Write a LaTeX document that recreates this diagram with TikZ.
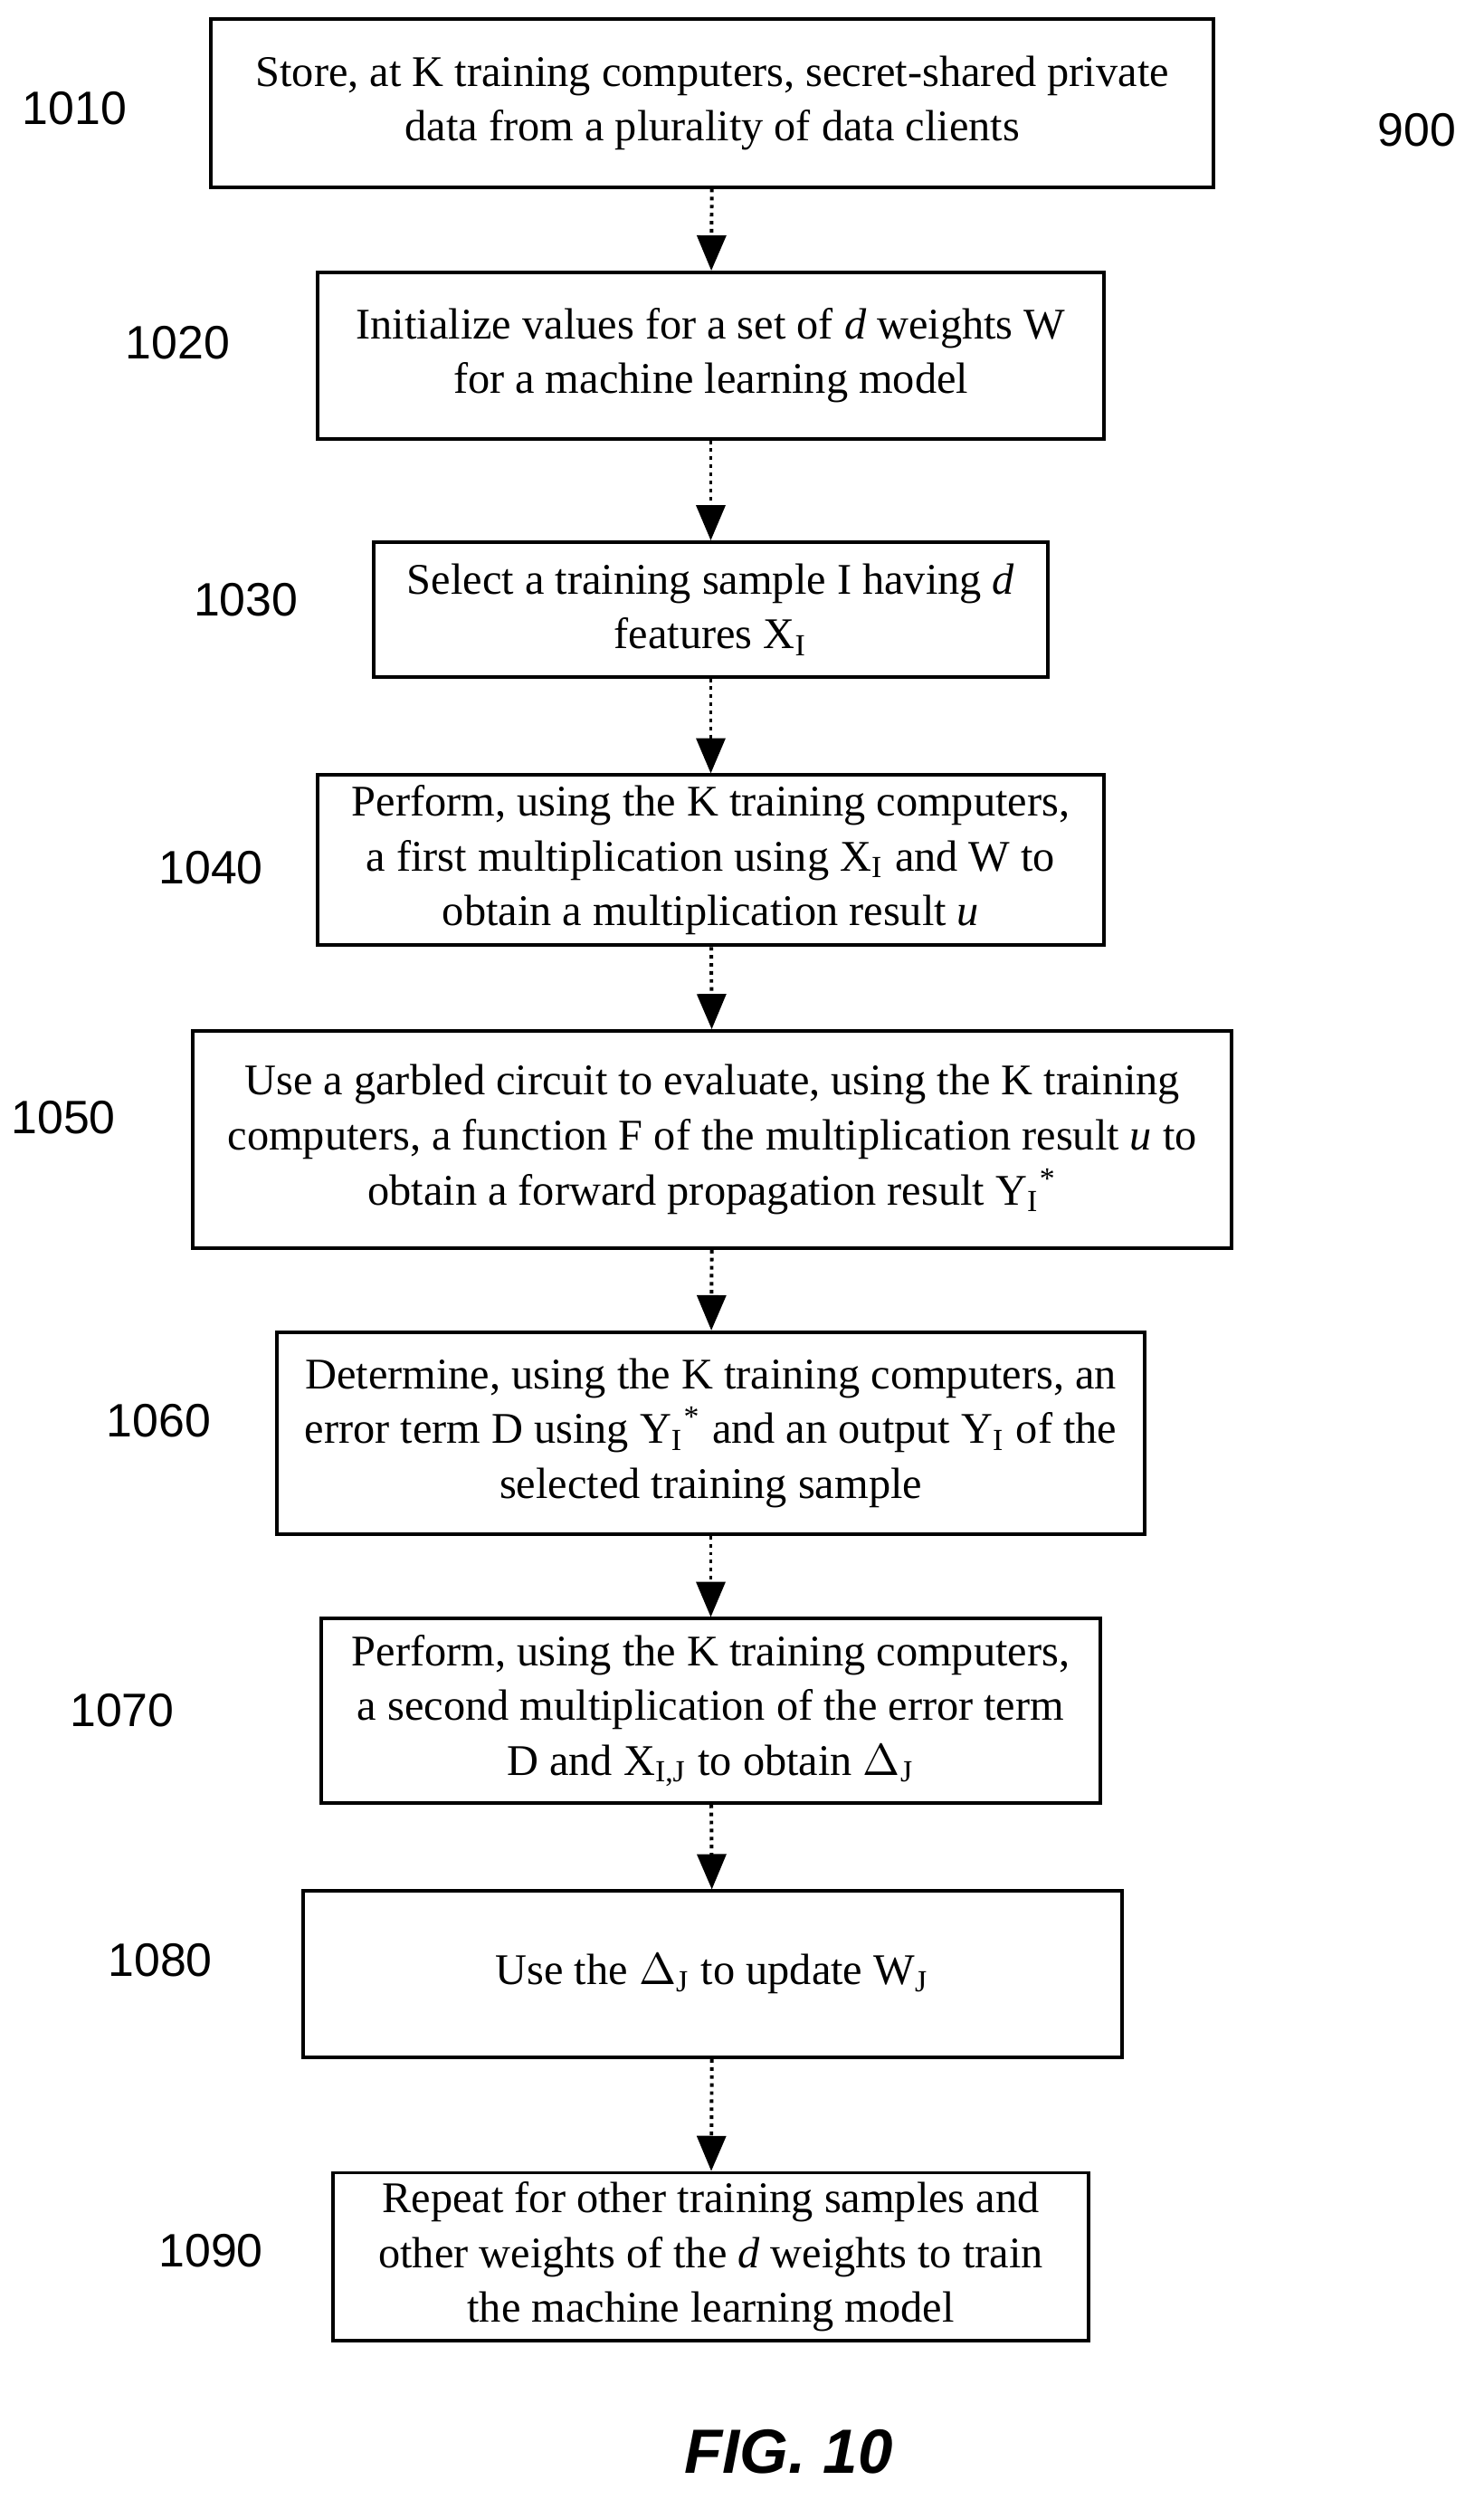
\documentclass[tikz,border=0pt]{standalone}
\usepackage{fontspec}
\setmainfont{Liberation Serif}
\newfontfamily\labelfont{Liberation Sans}
\usetikzlibrary{arrows,positioning}

\begin{document}
\begin{tikzpicture}[x=0.0125cm,y=-0.0125cm,font=\fontsize{9.8}{12.3}\selectfont]

\tikzset{stepbox/.style={draw,thick,align=center,inner sep=2pt},
steplabel/.style={font=\labelfont\fontsize{10.5}{12}\selectfont},
flow/.style={->,>=triangle 45,thick,densely dotted}}

\useasboundingbox (0,0) rectangle (935,1581);

% Boxes
\node[stepbox,minimum width=7.9cm,minimum height=1.32cm] (b1010) at (449,65) {Store, at K training computers, secret-shared private\\data from a plurality of data clients};
\node[stepbox,minimum width=6.19cm,minimum height=1.31cm] (b1020) at (448,224) {Initialize values for a set of \textit{d} weights W\\for a machine learning model};
\node[stepbox,minimum width=5.31cm,minimum height=1.06cm] (b1030) at (448,384) {Select a training sample I having \textit{d}\\features X\textsubscript{I}};
\node[stepbox,minimum width=6.19cm,minimum height=1.34cm] (b1040) at (448,542) {Perform, using the K training computers,\\a first multiplication using X\textsubscript{I} and W to\\obtain a multiplication result \textit{u}};
\node[stepbox,minimum width=8.18cm,minimum height=1.71cm] (b1050) at (449,718) {Use a garbled circuit to evaluate, using the K training\\computers, a function F of the multiplication result \textit{u} to\\obtain a forward propagation result Y\textsubscript{I}\textsuperscript{*}};
\node[stepbox,minimum width=6.84cm,minimum height=1.59cm] (b1060) at (448,903) {Determine, using the K training computers, an\\error term D using Y\textsubscript{I}\textsuperscript{*} and an output Y\textsubscript{I} of the\\selected training sample};
\node[stepbox,minimum width=6.14cm,minimum height=1.45cm] (b1070) at (448,1078) {Perform, using the K training computers,\\a second multiplication of the error term\\D and X\textsubscript{I,J} to obtain $\Delta_{\mathrm J}$};
\node[stepbox,minimum width=6.45cm,minimum height=1.31cm] (b1080) at (449,1244) {Use the $\Delta_{\mathrm J}$ to update W\textsubscript{J}};
\node[stepbox,minimum width=5.95cm,minimum height=1.31cm] (b1090) at (448,1422) {Repeat for other training samples and\\other weights of the \textit{d} weights to train\\the machine learning model};

% Reference labels
\node[steplabel] (l1010) at (47,68) {1010};
\node[steplabel] (l900) at (893,82) {900};
\node[steplabel] (l1020) at (112,216) {1020};
\node[steplabel] (l1030) at (155,378) {1030};
\node[steplabel] (l1040) at (133,547) {1040};
\node[steplabel] (l1050) at (40,704) {1050};
\node[steplabel] (l1060) at (100,895) {1060};
\node[steplabel] (l1070) at (77,1078) {1070};
\node[steplabel] (l1080) at (101,1235) {1080};
\node[steplabel] (l1090) at (133,1418) {1090};
\node[font=\labelfont\bfseries\itshape\fontsize{14}{16}\selectfont] (fig) at (497,1545) {FIG. 10};

% Arrows
\draw[flow] (b1010) -- (b1020);
\draw[flow] (b1020) -- (b1030);
\draw[flow] (b1030) -- (b1040);
\draw[flow] (b1040) -- (b1050);
\draw[flow] (b1050) -- (b1060);
\draw[flow] (b1060) -- (b1070);
\draw[flow] (b1070) -- (b1080);
\draw[flow] (b1080) -- (b1090);

\end{tikzpicture}
\end{document}
